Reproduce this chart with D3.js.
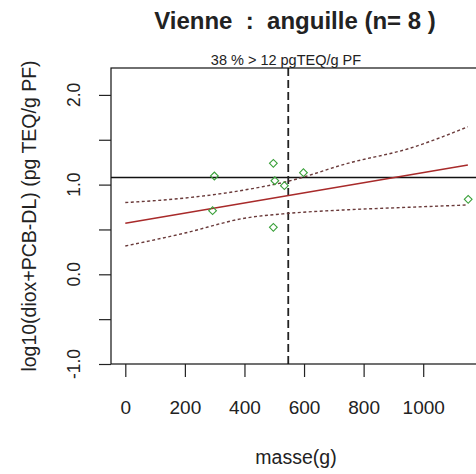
<!DOCTYPE html>
<html><head><meta charset="utf-8">
<script src="https://cdn.jsdelivr.net/npm/d3@7"></script>
<style>
html,body{margin:0;padding:0;background:#fff;}
text{font-family:"Liberation Sans",Arial,sans-serif;fill:#222;}
</style></head>
<body><svg id="c" width="476" height="474"></svg>
<script>
// ---- data ----
const masses = [299, 293, 497, 502, 534, 598, 497, 1151];
const logValues = [1.096, 0.709, 1.237, 1.043, 0.988, 1.133, 0.524, 0.836];
const fitX = [0, 1150];
const fitY = [0.57, 1.218];
const bandX = [0, 200, 400, 550, 750, 950, 1150];
const bandUpper = [0.80, 0.85, 0.94, 1.04, 1.24, 1.40, 1.645];
const bandLower = [0.315, 0.46, 0.625, 0.68, 0.72, 0.747, 0.773];
const thresholdLog = Math.log10(12);
const meanMass = 547;
const xTicks = [0, 200, 400, 600, 800, 1000];
const yTicks = [-1, -0.5, 0, 0.5, 1, 1.5, 2];
const yLabels = ["-1.0", "0.0", "1.0", "2.0"];
const yLabelValues = [-1, 0, 1, 2];
const title = "Vienne  :  anguille (n= 8 )";
const subtitle = "38 % > 12 pgTEQ/g PF";
const xTitle = "masse(g)";
const yTitle = "log10(diox+PCB-DL) (pg TEQ/g PF)";

const svg = d3.select("#c");
const L = 111, R = 481, T = 68, B = 364;
const x = d3.scaleLinear().domain([-48, 1194]).range([L, R]);
const y = d3.scaleLinear().domain([-1, 2.3]).range([B, T]);

const g = svg.append("g");
const clip = svg.append("clipPath").attr("id","pc").append("rect")
  .attr("x", L).attr("y", T).attr("width", R - L).attr("height", B - T);
const plot = g.append("g").attr("clip-path","url(#pc)");

// threshold line
plot.append("line").attr("x1", L).attr("x2", R)
  .attr("y1", y(thresholdLog)).attr("y2", y(thresholdLog))
  .attr("stroke", "#111").attr("stroke-width", 1.5);
// mean mass dashed line
plot.append("line").attr("x1", x(meanMass)).attr("x2", x(meanMass))
  .attr("y1", T).attr("y2", B)
  .attr("stroke", "#222").attr("stroke-width", 1.8).attr("stroke-dasharray", "8,4");

const line = d3.line().x(d => x(d[0])).y(d => y(d[1]));
// bands
plot.append("path").datum(d3.zip(bandX, bandUpper)).attr("d", line.curve(d3.curveMonotoneX))
  .attr("fill","none").attr("stroke","#6a3a3a").attr("stroke-width",1.4).attr("stroke-dasharray","3,2.5");
plot.append("path").datum(d3.zip(bandX, bandLower)).attr("d", line.curve(d3.curveMonotoneX))
  .attr("fill","none").attr("stroke","#6a3a3a").attr("stroke-width",1.4).attr("stroke-dasharray","3,2.5");
// fit
plot.append("path").datum(d3.zip(fitX, fitY)).attr("d", d3.line().x(d=>x(d[0])).y(d=>y(d[1])))
  .attr("fill","none").attr("stroke","#a82a2a").attr("stroke-width",1.5);

// points
const sym = d3.symbol().type(d3.symbolSquare).size(30);
plot.selectAll("path.pt").data(d3.zip(masses, logValues)).enter().append("path")
  .attr("class","pt").attr("d", sym)
  .attr("transform", d => `translate(${x(d[0])},${y(d[1])}) rotate(45)`)
  .attr("fill","none").attr("stroke","#3aa03a").attr("stroke-width",1.1);

// box
g.append("rect").attr("x", L).attr("y", T).attr("width", R - L).attr("height", B - T)
  .attr("fill","none").attr("stroke","#111").attr("stroke-width",1.2);

// x axis
const xa = g.append("g").attr("transform", `translate(0,${B})`)
  .call(d3.axisBottom(x).tickValues(xTicks).tickSize(13).tickSizeOuter(0).tickFormat(d3.format("d")));
xa.select(".domain").remove();
xa.selectAll("line").attr("stroke","#222").attr("stroke-width",1.2);
xa.selectAll("text").attr("y", 0).attr("dy", 0).attr("transform","translate(0,50)")
  .style("font-size","19px").style("font-family","Liberation Sans, Arial, sans-serif").attr("fill","#222");

// y axis
const ya = g.append("g").attr("transform", `translate(${L},0)`)
  .call(d3.axisLeft(y).tickValues(yTicks).tickSize(12).tickSizeOuter(0).tickFormat(""));
ya.select(".domain").remove();
ya.selectAll("line").attr("stroke","#222").attr("stroke-width",1.2);
g.selectAll("text.ylab").data(yLabelValues).enter().append("text").attr("class","ylab")
  .attr("transform", d => `translate(80,${y(d)}) rotate(-90)`)
  .attr("text-anchor","middle").style("font-size","17.5px")
  .text((d,i) => yLabels[i]);

// titles
svg.append("text").attr("x", 295).attr("y", 29).attr("text-anchor","middle")
  .style("font-size","24px").style("font-weight","bold").style("white-space","pre").attr("xml:space","preserve")
  .text(title);
svg.append("text").attr("x", 286).attr("y", 65).attr("text-anchor","middle")
  .style("font-size","14.5px").text(subtitle);
svg.append("text").attr("x", (L + R) / 2).attr("y", 464).attr("text-anchor","middle")
  .style("font-size","19.5px").text(xTitle);
svg.append("text").attr("transform", `translate(36,${(T + B) / 2}) rotate(-90)`).attr("text-anchor","middle")
  .style("font-size","19.5px").text(yTitle);
</script></body></html>
